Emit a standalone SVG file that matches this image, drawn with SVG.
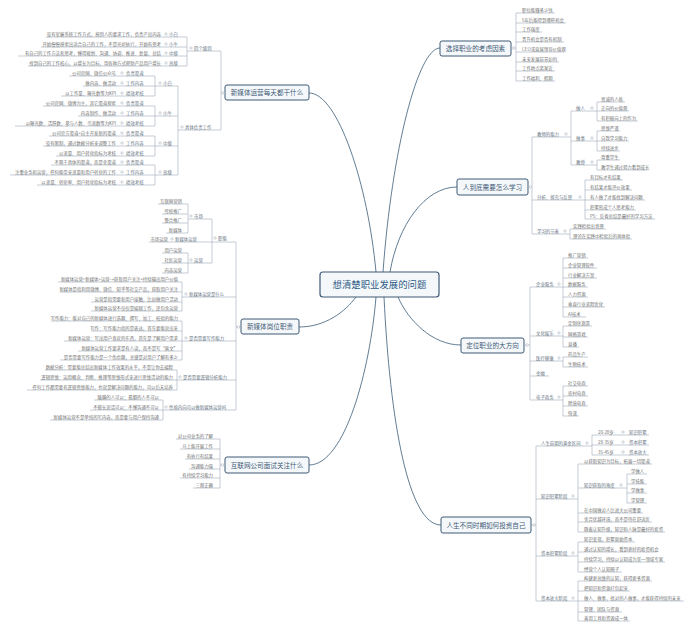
<svg xmlns="http://www.w3.org/2000/svg" width="690" height="628" viewBox="0 0 690 628">
<style>
text{font-family:"Noto Sans CJK SC","Noto Sans",sans-serif}
.t{font-size:4.4px;fill:#707070}
.e{text-anchor:end}
.k{font-size:4.4px;fill:#66737f}
.u{stroke:#9eabb8;stroke-width:0.6;fill:none}
.c{fill:#fff;stroke:#9eabb8;stroke-width:0.5}
.b{fill:#f5f8fb;stroke:#3f5a75;stroke-width:1}
.bt{font-size:6.6px;fill:#3f5a75;text-anchor:middle}
.m{stroke:#46657f;stroke-width:0.85;fill:none}
</style>
<rect width="690" height="628" fill="#fff"/>
<g id="connectors">
<path class="m" d="M309,93 C338,93 368,185 376,272"/>
<path class="m" d="M299,327 C325,327 345,312 356,297"/>
<path class="m" d="M309,465 C345,465 370,370 376,297"/>
<path class="m" d="M440,48 C418,48 392,150 383,272"/>
<path class="m" d="M457,187 C425,187 398,225 390,272"/>
<path class="m" d="M461,345 C432,345 408,320 398,297"/>
<path class="m" d="M441,525 C408,525 390,420 384,297"/>
</g>
<g id="center">
<rect x="320" y="272" width="119" height="25" rx="3" fill="#f4f8fb" stroke="#3f5a75" stroke-width="1.2"/>
<text x="379.5" y="288" font-size="9.4" fill="#2f5a84" text-anchor="middle">想清楚职业发展的问题</text>
</g>
<g id="n1">
<rect class="b" x="225" y="85" width="84" height="15" rx="2"/>
<text class="bt" x="267" y="95">新媒体运营每天都干什么</text>
<path class="u" d="M221,51V130 M221,93H224"/>
<circle class="c" cx="223" cy="93" r="1.3"/>
<path class="u" d="M187,51H221 M187,37V66"/>
<circle class="c" cx="191" cy="48" r="1.2"/>
<text class="k" x="194" y="49.5">四个级别</text>
<text class="t e" x="161" y="35.5">没有掌握系统工作方式，按别人的要求工作，负责产出内容</text><circle class="c" cx="166" cy="34" r="1.2"/><text class="k" x="169" y="35.5">小白</text><path class="u" d="M46,37H187"/>
<text class="t e" x="161" y="45.5">开始慢慢摸索出适合自己的工作，不是光听执行，开始有思考</text><circle class="c" cx="166" cy="44" r="1.2"/><text class="k" x="169" y="45.5">小牛</text><path class="u" d="M41,47H187"/>
<text class="t e" x="161" y="54.5">有自己的工作方法和思考，懂得规划、沟通、协调、推进、复盘、总结</text><circle class="c" cx="166" cy="53" r="1.2"/><text class="k" x="169" y="54.5">中级</text><path class="u" d="M18,56H187"/>
<text class="t e" x="161" y="64.5">找到自己的工作核心，以增长为目标，用各种方式帮助产品用户增长</text><circle class="c" cx="166" cy="63" r="1.2"/><text class="k" x="169" y="64.5">高级</text><path class="u" d="M28,66H187"/>
<path class="u" d="M178,130H221 M178,86V175 M155,76V96 M155,106V126 M155,136V156 M155,165V185 M155,86H178 M155,116H178 M155,146H178 M155,175H178"/>
<circle class="c" cx="182" cy="127" r="1.2"/>
<text class="k" x="185" y="128.5">具体负责工作</text>
<circle class="c" cx="160" cy="83" r="1.2"/><text class="k" x="163" y="84.5">小白</text>
<circle class="c" cx="160" cy="113" r="1.2"/><text class="k" x="163" y="114.5">小牛</text>
<circle class="c" cx="160" cy="143" r="1.2"/><text class="k" x="163" y="144.5">中级</text>
<circle class="c" cx="160" cy="172" r="1.2"/><text class="k" x="163" y="173.5">高级</text>
<text class="t e" x="116" y="74.5">公司官网、微信公众号</text><circle class="c" cx="122" cy="73" r="1.2"/><text class="k" x="126" y="74.5">负责渠道</text><path class="u" d="M69,76H155"/>
<text class="t e" x="116" y="84.5">做内容、做活动</text><circle class="c" cx="122" cy="83" r="1.2"/><text class="k" x="126" y="84.5">工作内容</text><path class="u" d="M83,86H155"/>
<text class="t e" x="116" y="94.5">以工作量、曝光数等为KPI</text><circle class="c" cx="122" cy="93" r="1.2"/><text class="k" x="126" y="94.5">绩效考核</text><path class="u" d="M61,96H155"/>
<text class="t e" x="116" y="104.5">公司官网、微博为主，其它渠道探索</text><circle class="c" cx="122" cy="103" r="1.2"/><text class="k" x="126" y="104.5">负责渠道</text><path class="u" d="M43,106H155"/>
<text class="t e" x="116" y="114.5">内容制作、做活动</text><circle class="c" cx="122" cy="113" r="1.2"/><text class="k" x="126" y="114.5">工作内容</text><path class="u" d="M78,116H155"/>
<text class="t e" x="116" y="124.5">以曝光数、活跃数、参与人数、引流数等为KPI</text><circle class="c" cx="122" cy="123" r="1.2"/><text class="k" x="126" y="124.5">绩效考核</text><path class="u" d="M15,126H155"/>
<text class="t e" x="116" y="134.5">公司官方渠道+自主开发新的渠道</text><circle class="c" cx="122" cy="133" r="1.2"/><text class="k" x="126" y="134.5">负责渠道</text><path class="u" d="M49,136H155"/>
<text class="t e" x="116" y="144.5">没有限制，通过数据分析来调整工作</text><circle class="c" cx="122" cy="143" r="1.2"/><text class="k" x="126" y="144.5">工作内容</text><path class="u" d="M43,146H155"/>
<text class="t e" x="116" y="154.5">以流量、用户转化指标为考核</text><circle class="c" cx="122" cy="153" r="1.2"/><text class="k" x="126" y="154.5">绩效考核</text><path class="u" d="M56,156H155"/>
<text class="t e" x="116" y="163.5">不限于具体的渠道，而是全渠道</text><circle class="c" cx="122" cy="162" r="1.2"/><text class="k" x="126" y="163.5">负责渠道</text><path class="u" d="M51,165H155"/>
<text class="t e" x="116" y="173.5">注重业务和运营，任何能带来流量和用户转化的工作</text><circle class="c" cx="122" cy="172" r="1.2"/><text class="k" x="126" y="173.5">工作内容</text><path class="u" d="M10,175H155"/>
<text class="t e" x="116" y="183.5">以流量、转化率、用户转化指标为考核</text><circle class="c" cx="122" cy="182" r="1.2"/><text class="k" x="126" y="183.5">绩效考核</text><path class="u" d="M37,185H155"/>
</g>
<g id="n2">
<rect class="b" x="241" y="319" width="58" height="15" rx="2"/>
<text class="bt" x="270" y="329">新媒体岗位职责</text>
<path class="u" d="M236,242V410 M236,327H240"/>
<circle class="c" cx="238.5" cy="327" r="1.3"/>
<path class="u" d="M212,242H236 M212,219V263 M188,219H212 M188,263H212 M188,204V233 M188,253V273 M149,242H212"/>
<circle class="c" cx="215" cy="238" r="1.2"/><text class="k" x="218" y="239.5">职能</text>
<circle class="c" cx="191" cy="216" r="1.2"/><text class="k" x="194" y="217.5">市场</text>
<text class="t e" x="182" y="202.5">互联网营销</text><path class="u" d="M158,204H188"/>
<text class="t e" x="182" y="212.5">传统推广</text><path class="u" d="M162,214H188"/>
<text class="t e" x="182" y="221.5">整合推广</text><path class="u" d="M162,223H188"/>
<text class="t e" x="182" y="231.5">新媒体</text><path class="u" d="M166,233H188"/>
<text class="t e" x="168" y="240.5">市场运营</text><circle class="c" cx="172" cy="239" r="1.2"/><text class="k" x="175" y="240.5">新媒体运营</text>
<circle class="c" cx="191" cy="260" r="1.2"/><text class="k" x="194" y="261.5">运营</text>
<text class="t e" x="182" y="251.5">用户运营</text><path class="u" d="M162,253H188"/>
<text class="t e" x="182" y="261.5">社区运营</text><path class="u" d="M162,263H188"/>
<text class="t e" x="182" y="271.5">内容运营</text><path class="u" d="M162,273H188"/>
<path class="u" d="M182,297H236 M182,282V311"/>
<circle class="c" cx="186" cy="294" r="1.2"/><text class="k" x="189" y="295.5">新媒体运营是什么</text>
<text class="t e" x="178" y="280.5">新媒体运营=新媒体+运营→获取用户关注+持续输出用户价值</text><path class="u" d="M58,282H182"/>
<text class="t e" x="178" y="290.5">新媒体是指利用微博、微信、知乎等社交产品，获取用户关注</text><path class="u" d="M60,292H182"/>
<text class="t e" x="178" y="300.5">运营是指需要和用户接触，比如做用户活动</text><path class="u" d="M91,302H182"/>
<text class="t e" x="178" y="309.5">新媒体运营不仅仅是编辑工作，还包含运营</text><path class="u" d="M91,311H182"/>
<path class="u" d="M182,341H236 M182,321V360"/>
<circle class="c" cx="186" cy="338" r="1.2"/><text class="k" x="189" y="339.5">是否需要写作能力</text>
<text class="t e" x="178" y="319.5">写作能力：能对自己的新媒体进行选题、撰写、加工、校验的能力</text><path class="u" d="M51,321H182"/>
<text class="t e" x="178" y="329.5">写作：写作能力指的是表达，首先要能说出来</text><path class="u" d="M91,331H182"/>
<text class="t e" x="178" y="339.5">新媒体运营：写出用户喜欢的东西，首先是了解用户需求</text><path class="u" d="M64,341H182"/>
<text class="t e" x="178" y="349.5">新媒体运营工作要求是有人读，而不是写“爽文”</text><path class="u" d="M78,351H182"/>
<text class="t e" x="178" y="358.5">是否需要写作能力是一个伪命题，关键是对用户了解有多少</text><path class="u" d="M60,360H182"/>
<path class="u" d="M177,380H236 M177,370V390"/>
<circle class="c" cx="180" cy="377" r="1.2"/><text class="k" x="183" y="378.5">是否需要逻辑分析能力</text>
<text class="t e" x="173" y="368.5">数据分析：需要能总结出新媒体工作效果的水平，不是让你去编程</text><path class="u" d="M45,370H177"/>
<text class="t e" x="173" y="378.5">逻辑思维：运用概念、判断、推理等思维形式来进行思维活动的能力</text><path class="u" d="M40,380H177"/>
<text class="t e" x="173" y="388.5">任何工作都需要有逻辑思维能力，也就是解决问题的能力，可以后天培养</text><path class="u" d="M27,390H177"/>
<path class="u" d="M163,410H236 M163,400V420"/>
<circle class="c" cx="166" cy="407" r="1.2"/><text class="k" x="169" y="408.5">性格内向可以做新媒体运营吗</text>
<text class="t e" x="159" y="398.5">腼腆的人可以；孤僻的人不可以</text><path class="u" d="M94,400H163"/>
<text class="t e" x="159" y="408.5">不擅长说话可以；不懂沟通不可以</text><path class="u" d="M90,410H163"/>
<text class="t e" x="159" y="418.5">新媒体运营不是单纯的写内容，而是要与用户保持沟通</text><path class="u" d="M50,420H163"/>
</g>
<g id="n3">
<rect class="b" x="225" y="457" width="84" height="16" rx="2"/>
<text class="bt" x="267" y="467.5">互联网公司面试关注什么</text>
<path class="u" d="M220,439V488 M220,465H224"/>
<circle class="c" cx="222.5" cy="465" r="1.3"/>
<text class="t e" x="213" y="437.5">对公司业务的了解</text><path class="u" d="M176,439H220"/>
<text class="t e" x="213" y="447.5">马上能开展工作</text><path class="u" d="M180,449H220"/>
<text class="t e" x="213" y="457.5">有执行有结果</text><path class="u" d="M185,459H220"/>
<text class="t e" x="213" y="467.5">沟通能力强</text><path class="u" d="M189,469H220"/>
<text class="t e" x="213" y="476.5">有持续学习能力</text><path class="u" d="M180,478H220"/>
<text class="t e" x="213" y="486.5">三观正确</text><path class="u" d="M193,488H220"/>
</g>
<g id="n4">
<rect class="b" x="440" y="41" width="71" height="15" rx="2"/>
<text class="bt" x="475.5" y="51">选择职业的考虑因素</text>
<path class="u" d="M516,13V81 M512,48H516"/>
<circle class="c" cx="513.5" cy="48" r="1.3"/>
<text class="t" x="522" y="11.5">职位能赚多少钱</text><path class="u" d="M516,13H555"/>
<text class="t" x="522" y="21.5">5年后能得到哪些机会</text><path class="u" d="M516,23H566"/>
<text class="t" x="522" y="30.5">工作强度</text><path class="u" d="M516,32H542"/>
<text class="t" x="522" y="40.5">晋升机会是否有机制</text><path class="u" d="M516,42H564"/>
<text class="t" x="522" y="50.5">CEO或直属领导价值观</text><path class="u" d="M516,52H564"/>
<text class="t" x="522" y="60.5">未来发展前景如何</text><path class="u" d="M516,62H559"/>
<text class="t" x="522" y="69.5">工作地点离家近</text><path class="u" d="M516,71H555"/>
<text class="t" x="522" y="79.5">工作福利、假期</text><path class="u" d="M516,81H555"/>
</g>
<g id="n5">
<rect class="b" x="457" y="179" width="71" height="16" rx="2"/>
<text class="bt" x="492.5" y="189.5">人到底需要怎么学习</text>
<path class="u" d="M532,137V234 M528,187H532"/>
<circle class="c" cx="530.5" cy="187" r="1.3"/>
<path class="u" d="M532,137H571 M571,111V165 M571,111H597 M571,141H597 M571,165H597 M597,102V121 M597,131V151 M597,160V170"/>
<text class="k" x="537" y="135.5">教师的能力</text><circle class="c" cx="566" cy="134" r="1.2"/>
<text class="k" x="576" y="109.5">做人</text><circle class="c" cx="592" cy="108" r="1.2"/>
<text class="t" x="601" y="100.5">真诚的人格</text><path class="u" d="M597,102H625"/>
<text class="t" x="601" y="109.5">正向的价值观</text><path class="u" d="M597,111H629"/>
<text class="t" x="601" y="119.5">有积极向上的作为</text><path class="u" d="M597,121H638"/>
<text class="k" x="576" y="139.5">做事</text><circle class="c" cx="592" cy="138" r="1.2"/>
<text class="t" x="601" y="129.5">思维严谨</text><path class="u" d="M597,131H620"/>
<text class="t" x="601" y="139.5">自我学习能力</text><path class="u" d="M597,141H629"/>
<text class="t" x="601" y="149.5">持续进步</text><path class="u" d="M597,151H620"/>
<text class="k" x="576" y="163.5">教授</text><circle class="c" cx="592" cy="162" r="1.2"/>
<text class="t" x="601" y="158.5">尊重学生</text><path class="u" d="M597,160H620"/>
<text class="t" x="601" y="168.5">教学生通过努力看到成长</text><path class="u" d="M597,170H647"/>
<path class="u" d="M532,200H585 M585,180V219"/>
<text class="k" x="537" y="198.5">分析、探究与反思</text><circle class="c" cx="580" cy="197" r="1.2"/>
<text class="t" x="590" y="178.5">有目标才有结果</text><path class="u" d="M585,180H623"/>
<text class="t" x="590" y="188.5">有结果才能评价效果</text><path class="u" d="M585,190H632"/>
<text class="t" x="590" y="198.5">有人做了才能找到解决问题</text><path class="u" d="M585,200H645"/>
<text class="t" x="590" y="208.5">积累形成个人思考能力</text><path class="u" d="M585,210H636"/>
<text class="t" x="590" y="217.5">PS：反省总结是最好的学习方法</text><path class="u" d="M585,219H655"/>
<path class="u" d="M532,234H570 M570,229V239"/>
<text class="k" x="537" y="232.5">学习的节奏</text><circle class="c" cx="565" cy="231" r="1.2"/>
<text class="t" x="573" y="227.5">实践检验出真理</text><path class="u" d="M570,229H606"/>
<text class="t" x="573" y="237.5">理论在实践中检验后的再体验</text><path class="u" d="M570,239H632"/>
</g>
<g id="n6">
<rect class="b" x="461" y="338" width="63" height="15" rx="2"/>
<text class="bt" x="492.5" y="348">定位职业的大方向</text>
<path class="u" d="M530,287V400 M524,345H530"/>
<circle class="c" cx="527" cy="345" r="1.3"/>
<path class="u" d="M530,287H563 M563,258V317"/>
<text class="k" x="536" y="285.5">企业服务</text><circle class="c" cx="559" cy="284" r="1.2"/>
<text class="t" x="568" y="256.5">推广营销</text><path class="u" d="M563,258H588"/>
<text class="t" x="568" y="266.5">企业管理软件</text><path class="u" d="M563,268H597"/>
<text class="t" x="568" y="276.5">行业解决方案</text><path class="u" d="M563,278H597"/>
<text class="t" x="568" y="285.5">数据服务</text><path class="u" d="M563,287H588"/>
<text class="t" x="568" y="295.5">人力资源</text><path class="u" d="M563,297H588"/>
<text class="t" x="568" y="305.5">垂直行业流程优化</text><path class="u" d="M563,307H605"/>
<text class="t" x="568" y="315.5">AI技术</text><path class="u" d="M563,317H586"/>
<path class="u" d="M530,336H563 M563,326V347"/>
<text class="k" x="536" y="334.5">文化娱乐</text><circle class="c" cx="559" cy="333" r="1.2"/>
<text class="t" x="568" y="324.5">定制化旅游</text><path class="u" d="M563,326H592"/>
<text class="t" x="568" y="335.5">网络游戏</text><path class="u" d="M563,337H588"/>
<text class="t" x="568" y="345.5">直播</text><path class="u" d="M563,347H579"/>
<path class="u" d="M530,361H563 M563,357V367"/>
<text class="k" x="536" y="359.5">医疗健康</text><circle class="c" cx="559" cy="358" r="1.2"/>
<text class="t" x="568" y="355.5">药品生产</text><path class="u" d="M563,357H588"/>
<text class="t" x="568" y="365.5">生物技术</text><path class="u" d="M563,367H588"/>
<text class="k" x="536" y="374.5">金融</text><path class="u" d="M530,376H549"/>
<path class="u" d="M530,400H563 M563,386V416"/>
<text class="k" x="536" y="398.5">电子商务</text><circle class="c" cx="559" cy="397" r="1.2"/>
<text class="t" x="568" y="384.5">社交电商</text><path class="u" d="M563,386H588"/>
<text class="t" x="568" y="394.5">农村电商</text><path class="u" d="M563,396H588"/>
<text class="t" x="568" y="404.5">跨境电商</text><path class="u" d="M563,406H588"/>
<text class="t" x="568" y="414.5">快递</text><path class="u" d="M563,416H579"/>
</g>
<g id="n7">
<rect class="b" x="441" y="517" width="90" height="16" rx="2"/>
<text class="bt" x="486" y="527.5">人生不同时期如何投资自己</text>
<path class="u" d="M536,446V601 M531,525H536"/>
<circle class="c" cx="534" cy="525" r="1.3"/>
<path class="u" d="M536,446H592 M592,435V455"/>
<text class="k" x="541" y="444.5">人生前期的黄金区间</text><circle class="c" cx="587" cy="443" r="1.2"/>
<text class="t" x="598" y="433.5">20-28岁</text><circle class="c" cx="623" cy="432" r="1.2"/><text class="k" x="629" y="433.5">知识积累</text><path class="u" d="M592,435H649"/>
<text class="t" x="598" y="443.5">28-35岁</text><circle class="c" cx="623" cy="442" r="1.2"/><text class="k" x="629" y="443.5">资本积累</text><path class="u" d="M592,445H649"/>
<text class="t" x="598" y="453.5">35-45岁</text><circle class="c" cx="623" cy="452" r="1.2"/><text class="k" x="629" y="453.5">资本放大</text><path class="u" d="M592,455H649"/>
<path class="u" d="M536,499H578 M578,464V532"/>
<text class="k" x="541" y="497.5">知识积累阶段</text><circle class="c" cx="573" cy="496" r="1.2"/>
<text class="t" x="584" y="462.5">以获取知识为目标，拓展一切渠道</text><path class="u" d="M578,464H652"/>
<path class="u" d="M578,488H627 M627,474V503"/>
<text class="k" x="584" y="486.5">知识获取的角度</text><circle class="c" cx="621" cy="485" r="1.2"/>
<text class="t" x="631" y="472.5">学做人</text><path class="u" d="M627,474H647"/>
<text class="t" x="631" y="482.5">学技能</text><path class="u" d="M627,484H647"/>
<text class="t" x="631" y="491.5">学做事</text><path class="u" d="M627,493H647"/>
<text class="t" x="631" y="501.5">学管理</text><path class="u" d="M627,503H647"/>
<text class="t" x="584" y="511.5">在中国做对人比进大公司重要</text><path class="u" d="M578,513H643"/>
<text class="t" x="584" y="520.5">舍弃优越环境，而不是待在舒适区</text><path class="u" d="M578,522H652"/>
<text class="t" x="584" y="530.5">随着认知升级，知识和人脉是最好的投资</text><path class="u" d="M578,532H665"/>
<path class="u" d="M536,556H578 M578,542V572"/>
<text class="k" x="541" y="554.5">资本积累阶段</text><circle class="c" cx="573" cy="553" r="1.2"/>
<text class="t" x="584" y="540.5">知识变现，积累原始资本</text><path class="u" d="M578,542H635"/>
<text class="t" x="584" y="550.5">通过认知的增长，看到更好的投资机会</text><path class="u" d="M578,552H657"/>
<text class="t" x="584" y="560.5">持续学习，持续以认知成为某一领域专家</text><path class="u" d="M578,562H665"/>
<text class="t" x="584" y="570.5">经营个人认知圈子</text><path class="u" d="M578,572H622"/>
<path class="u" d="M536,601H578 M578,581V621"/>
<text class="k" x="541" y="599.5">资本放大阶段</text><circle class="c" cx="573" cy="598" r="1.2"/>
<text class="t" x="584" y="579.5">构建更高维的认知，获得更多资源</text><path class="u" d="M578,581H652"/>
<text class="t" x="584" y="589.5">把知识和资源打包起来</text><path class="u" d="M578,591H630"/>
<text class="t" x="584" y="599.5">做人、做事，找对的人做事，才能获得持续的未来</text><path class="u" d="M578,601H684"/>
<text class="t" x="584" y="610.5">管理、团队与资源</text><path class="u" d="M578,612H622"/>
<text class="t" x="584" y="619.5">善用工具和资源成一体</text><path class="u" d="M578,621H630"/>
</g>
</svg>
